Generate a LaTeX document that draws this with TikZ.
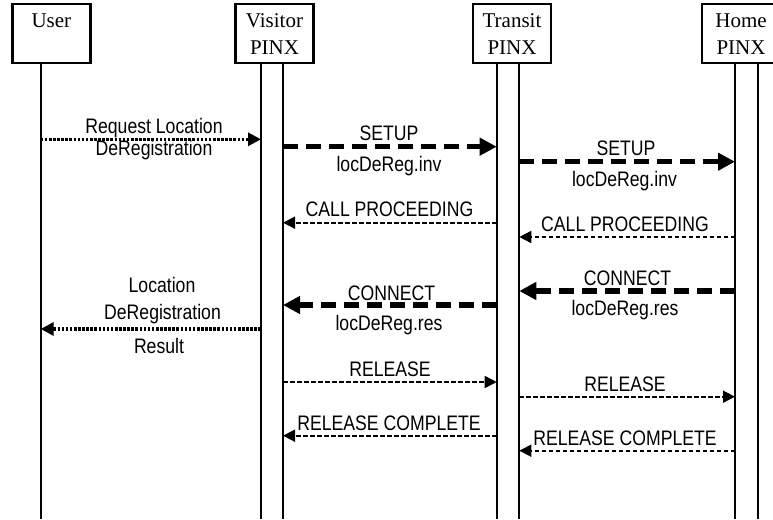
\documentclass[tikz,border=0pt]{standalone}
\usepackage{fontspec}
\setmainfont{Liberation Serif}
\newfontfamily\lblfont[FakeStretch=0.84]{Liberation Sans}
\usetikzlibrary{arrows.meta}
\begin{document}
\begin{tikzpicture}[x=1pt,y=-1pt,
  box/.style={draw, line width=2.6pt, minimum width=78pt, minimum height=59pt,
    inner sep=0pt, outer sep=0pt, anchor=north, align=center,
    font=\fontsize{21}{27}\selectfont},
  life/.style={line width=2pt},
  lbl/.style={anchor=base, inner sep=0pt, font=\lblfont\fontsize{21}{22}\selectfont},
  msgthick/.style={line width=5.5pt, dash pattern=on 15pt off 8pt,
    -{Triangle[length=17pt,width=17pt]}},
  msgthin/.style={line width=1.6pt, dash pattern=on 4.5pt off 2.5pt,
    -{Triangle[length=12pt,width=12pt]}},
  msgdot/.style={line width=3.2pt, dash pattern=on 2.6pt off 1.5pt,
    -{Triangle[length=13pt,width=13pt]}}
]
\clip (0,0) rectangle (773,519);
\fill[white] (0,0) rectangle (773,519);

% boxes
\node[box] (user)    at (51.4,4)  {\rule{0pt}{18pt}User\\\rule[-2pt]{0pt}{2pt}};
\node[box] (visitor) at (274.5,4) {\rule{0pt}{18pt}Visitor\\PINX\rule[-2pt]{0pt}{2pt}};
\node[box] (transit) at (512,4)   {\rule{0pt}{18pt}Transit\\PINX\rule[-2pt]{0pt}{2pt}};
\node[box] (home)    at (741,4)   {\rule{0pt}{18pt}Home\\PINX\rule[-2pt]{0pt}{2pt}};

% lifeline x positions
\coordinate (uA) at (40.7,0);
\coordinate (vA) at (261,0);
\coordinate (vB) at (283,0);
\coordinate (tA) at (496.7,0);
\coordinate (tB) at (519.3,0);
\coordinate (hA) at (735,0);
\coordinate (hB) at (758,0);

% lifelines
\draw[life] (user.south -| uA) -- ([yshift=-519pt]uA);
\draw[life] (visitor.south -| vA) -- ([yshift=-519pt]vA);
\draw[life] (visitor.south -| vB) -- ([yshift=-519pt]vB);
\draw[life] (transit.south -| tA) -- ([yshift=-519pt]tA);
\draw[life] (transit.south -| tB) -- ([yshift=-519pt]tB);
\draw[life] (home.south -| hA) -- ([yshift=-519pt]hA);
\draw[life] (home.south -| hB) -- ([yshift=-519pt]hB);

% messages
\draw[msgdot]   ([yshift=-139.3pt]uA) -- ([yshift=-139.3pt]vA);
\draw[msgthick] ([yshift=-146.7pt]vB) -- ([yshift=-146.7pt]tA);
\draw[msgthick] ([yshift=-161.7pt]tB) -- ([yshift=-161.7pt]hA);
\draw[msgthin]  ([yshift=-222.7pt]tA) -- ([yshift=-222.7pt]vB);
\draw[msgthin]  ([yshift=-237pt]hA) -- ([yshift=-237pt]tB);
\draw[msgthick] ([yshift=-291pt]hA) -- ([yshift=-291pt]tB);
\draw[msgthick] ([yshift=-305pt]tA) -- ([yshift=-305pt]vB);
\draw[msgdot]   ([yshift=-329pt]vA) -- ([yshift=-329pt]uA);
\draw[msgthin]  ([yshift=-382pt]vB) -- ([yshift=-382pt]tA);
\draw[msgthin]  ([yshift=-396.7pt]tB) -- ([yshift=-396.7pt]hA);
\draw[msgthin]  ([yshift=-435.7pt]tA) -- ([yshift=-435.7pt]vB);
\draw[msgthin]  ([yshift=-450.7pt]hA) -- ([yshift=-450.7pt]tB);

% labels
\node[lbl] (l1a) at (154,133) {Request Location};
\node[lbl] (l1b) at (154,155) {DeRegistration};
\node[lbl] (l2a) at (389,140) {SETUP};
\node[lbl] (l2b) at (389,171) {locDeReg.inv};
\node[lbl] (l3a) at (626,155) {SETUP};
\node[lbl] (l3b) at (624.5,186) {locDeReg.inv};
\node[lbl] (l4)  at (389.5,216.7) {CALL PROCEEDING};
\node[lbl] (l5)  at (625,231.7) {CALL PROCEEDING};
\node[lbl] (l6a) at (627.5,285) {CONNECT};
\node[lbl] (l6b) at (625,315) {locDeReg.res};
\node[lbl] (l7a) at (391.5,300) {CONNECT};
\node[lbl] (l7b) at (389,330) {locDeReg.res};
\node[lbl] (l8a) at (162,292.7) {Location};
\node[lbl] (l8b) at (162.5,319.3) {DeRegistration};
\node[lbl] (l8c) at (159,353.3) {Result};
\node[lbl] (l9)  at (390,376.7) {RELEASE};
\node[lbl] (l10) at (625,391.7) {RELEASE};
\node[lbl] (l11) at (389,430) {RELEASE COMPLETE};
\node[lbl] (l12) at (625,445) {RELEASE COMPLETE};
\end{tikzpicture}
\end{document}
